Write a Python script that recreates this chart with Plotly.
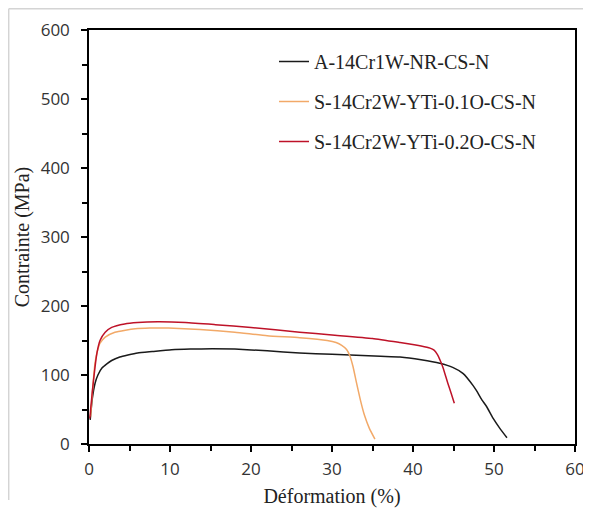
import plotly.graph_objects as go

# ---- data ----
names = ["A-14Cr1W-NR-CS-N", "S-14Cr2W-YTi-0.1O-CS-N", "S-14Cr2W-YTi-0.2O-CS-N"]
colors = ["#1a1a1a", "#F2A968", "#BE1228"]

strain_a = [0.15, 0.4, 0.75, 1.1, 1.6, 2.2, 2.8, 3.8, 4.8, 6, 7.8, 10.2, 12.5, 15.2, 18, 22, 26, 30, 33,
            36, 38.4, 41, 43.3, 44.9, 46.2, 47.4, 47.8, 48.5, 49.1, 49.9, 50.7, 51.6]
stress_a = [35, 65, 88, 100, 110, 116, 121, 126, 129, 132, 134, 136.5, 137.5, 138, 137.5, 135, 132, 130, 128.5,
            127, 126, 122, 117, 111, 102, 85, 78, 64, 54, 37, 23, 9]

strain_b = [0.2, 0.45, 0.74, 1.0, 1.36, 2.0, 3.2, 4.5, 5.7, 7.5, 9.8, 13.7, 18, 22, 26, 29.4, 30.5, 31.2,
            31.8, 32.2, 32.6, 33.0, 33.5, 34.0, 34.6, 35.3]
stress_b = [40, 80, 117, 133, 146, 155, 162, 165, 167, 168, 168, 166, 162, 157, 154, 150, 147, 143,
            137, 128, 112, 90, 64, 42, 23, 7]

strain_c = [0.1, 0.4, 0.74, 1.0, 1.36, 2.0, 2.8, 4.4, 6, 8.5, 11.9, 15.6, 20, 26, 30, 35, 38.4, 41,
            42.1, 42.6, 43.0, 43.4, 43.7, 44.3, 44.7, 45.1]
stress_c = [37, 75, 111, 133, 150, 162, 169, 174, 176, 177, 176, 173, 169, 162, 158, 153, 147, 142,
            139, 136, 130, 120, 111, 88, 74, 59]

x_ticks = [0, 10, 20, 30, 40, 50, 60]
y_ticks = [0, 100, 200, 300, 400, 500, 600]

# the page body has an 8 px margin, so the figure is drawn 8 px right and down
OFF = 8
W, H = 591 - OFF, 511 - OFF
L, R, T, B = 81, 16, 22, 67
PW, PH = W - L - R, H - T - B


def px_x(p):  # page pixel -> paper x
    return (p - OFF - L) / PW


def px_y(p):  # page pixel -> paper y
    return (H - B - (p - OFF)) / PH


fig = go.Figure()
for i, (xs, ys) in enumerate([(strain_a, stress_a), (strain_b, stress_b), (strain_c, stress_c)]):
    fig.add_trace(go.Scatter(
        x=xs, y=ys, mode="lines", name=names[i], legendgroup=f"g{i}",
        line=dict(color=colors[i], width=1.5, shape="spline", smoothing=0.5),
    ))

SERIF = "Liberation Serif"
tick_font = dict(family="Open Sans", size=17, color="#333333")
title_font = dict(family=SERIF, size=20, color="#222222")

fig.update_layout(
    width=W, height=H,
    margin=dict(l=L, r=R, t=T, b=B, autoexpand=False),
    paper_bgcolor="white", plot_bgcolor="white",
    showlegend=True,
    legend=dict(
        x=px_x(274), y=px_y(42), xanchor="left", yanchor="top",
        font=dict(family=SERIF, size=20, color="#222222"),
        bgcolor="rgba(0,0,0,0)", borderwidth=0, tracegroupgap=11,
        traceorder="grouped",
    ),
    xaxis=dict(
        range=[0, 60], tickvals=x_ticks, ticktext=[str(v) for v in x_ticks],
        showgrid=False, zeroline=False, automargin=False,
        showline=True, linecolor="black", linewidth=1.5, mirror=True,
        ticks="outside", ticklen=6, tickwidth=1.5, tickcolor="black",
        minor=dict(dtick=5, ticks="outside", ticklen=5, tickwidth=1.5, tickcolor="black", showgrid=False),
        tickfont=tick_font, ticklabelstandoff=3,
        title=dict(text="Déformation (%)", font=title_font, standoff=10),
    ),
    yaxis=dict(
        range=[0, 600], tickvals=y_ticks, ticktext=[str(v) for v in y_ticks],
        showgrid=False, zeroline=False, automargin=False,
        showline=True, linecolor="black", linewidth=1.5, mirror=True,
        ticks="outside", ticklen=6, tickwidth=1.5, tickcolor="black",
        minor=dict(dtick=50, ticks="outside", ticklen=5, tickwidth=1.5, tickcolor="black", showgrid=False),
        tickfont=tick_font, ticklabelstandoff=8,
        title=dict(text="Contrainte (MPa)", font=title_font, standoff=6),
    ),
)

# faint frame of the original image (top and left edges)
fig.add_shape(type="line", xref="paper", yref="paper", x0=px_x(8.7), x1=px_x(591), y0=px_y(8.7), y1=px_y(8.7),
              line=dict(color="#D4D4D4", width=1.5))
fig.add_shape(type="line", xref="paper", yref="paper", x0=px_x(8.7), x1=px_x(8.7), y0=px_y(8.7), y1=px_y(500),
              line=dict(color="#D4D4D4", width=1.5))

fig.write_html("out.html")
